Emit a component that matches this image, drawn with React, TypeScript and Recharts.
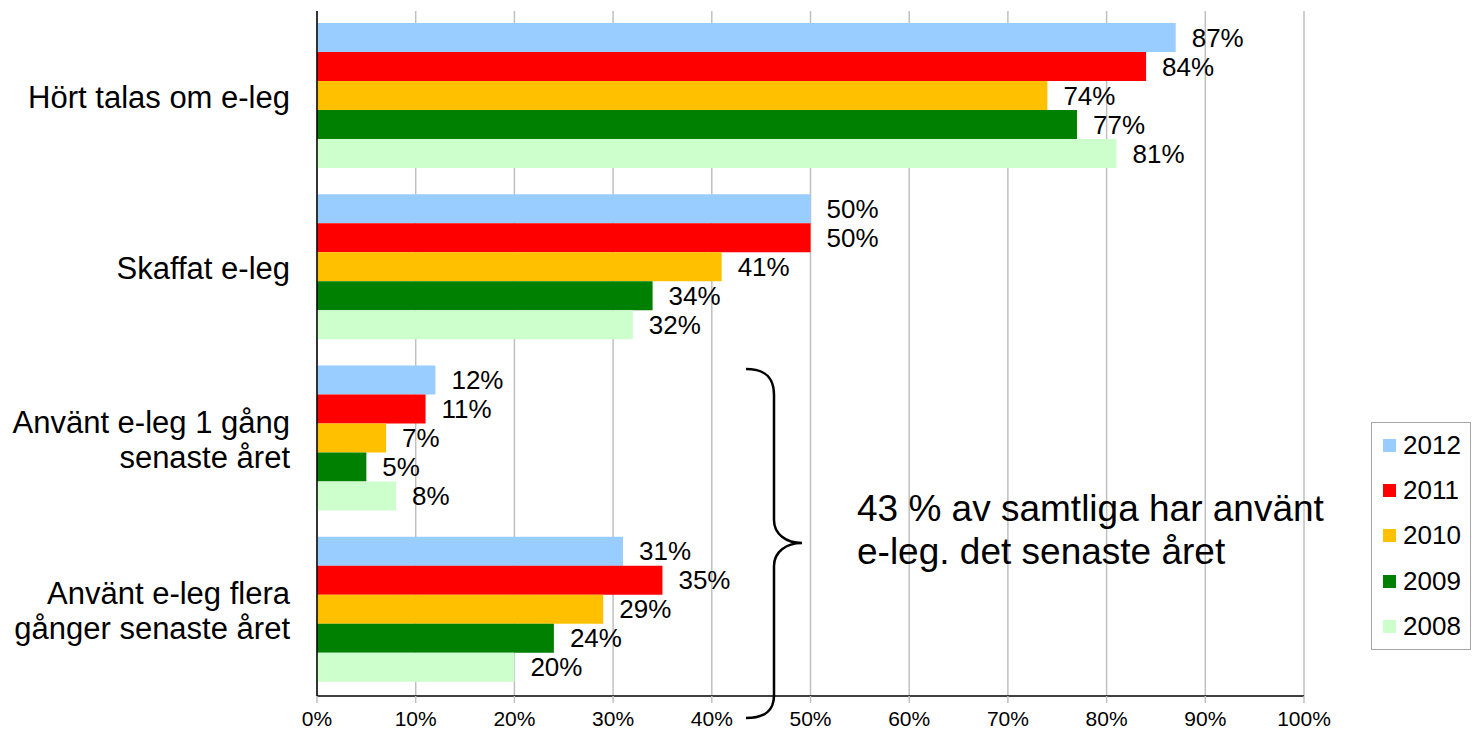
import React from 'react';
import {
  BarChart,
  Bar,
  XAxis,
  YAxis,
  CartesianGrid,
  Legend,
  LabelList,
  Customized,
} from 'recharts';

const categories = [
  'Hört talas om e-leg',
  'Skaffat e-leg',
  'Använt e-leg 1 gång\nsenaste året',
  'Använt e-leg flera\ngånger senaste året',
];

const values2012 = [87, 50, 12, 31];
const values2011 = [84, 50, 11, 35];
const values2010 = [74, 41, 7, 29];
const values2009 = [77, 34, 5, 24];
const values2008 = [81, 32, 8, 20];

const xTicks = [0, 10, 20, 30, 40, 50, 60, 70, 80, 90, 100];

const series = [
  { key: 'y2012', label: '2012', color: '#99CCFF', values: values2012 },
  { key: 'y2011', label: '2011', color: '#FF0000', values: values2011 },
  { key: 'y2010', label: '2010', color: '#FFC000', values: values2010 },
  { key: 'y2009', label: '2009', color: '#008000', values: values2009 },
  { key: 'y2008', label: '2008', color: '#CCFFCC', values: values2008 },
];

const data = categories.map((name, i) => {
  const row: { [key: string]: string | number } = { name };
  series.forEach((s) => {
    row[s.key] = s.values[i];
  });
  return row;
});

const FONT = '"Liberation Sans", Arial, sans-serif';

const CategoryTick = (props: any) => {
  const { x, y, payload } = props;
  const lines = String(payload.value).split('\n');
  const lh = 35;
  const y0 = y - ((lines.length - 1) * lh) / 2;
  return (
    <text x={x} y={y0} textAnchor="end" dominantBaseline="central" fontSize={31} fill="#000" fontFamily={FONT}>
      {lines.map((l, i) => (
        <tspan key={i} x={x} y={y0 + i * lh}>
          {l}
        </tspan>
      ))}
    </text>
  );
};

// legend rows follow the series order (2012 at top)
const renderLegend = (props: any) => {
  const payload = [...(props.payload || [])].sort((a: any, b: any) =>
    String(b.value).localeCompare(String(a.value))
  );
  return (
    <div
      style={{
        width: 98,
        height: 226,
        border: '1px solid #a6a6a6',
        background: '#fff',
        fontFamily: FONT,
        fontSize: 26,
        color: '#000',
      }}
    >
      {payload.map((entry: any) => (
        <div key={entry.value} style={{ display: 'flex', alignItems: 'center', height: 45.2, paddingLeft: 11 }}>
          <span style={{ display: 'inline-block', width: 13, height: 13, background: entry.color, marginRight: 7 }} />
          <span>{entry.value}</span>
        </div>
      ))}
    </div>
  );
};

const Annotation = () => (
  <g>
    <path
      d="M746,369 C766,369 774,378 774,395 L774,520 C774,534 786,543 802,543 C786,543 774,552 774,566 L774,695 C774,710 766,718 746,718"
      fill="none"
      stroke="#000"
      strokeWidth={2.5}
    />
    <text x={857} y={521} fontSize={37} fill="#000" fontFamily={FONT}>
      <tspan x={857} y={521}>43 % av samtliga har använt</tspan>
      <tspan x={857} y={564}>e-leg. det senaste året</tspan>
    </text>
  </g>
);

export default function App() {
  return (
    <div style={{ width: 1472, height: 731, background: '#fff', fontFamily: FONT }}>
      <style>{'body{margin:0}'}</style>
      <BarChart
        width={1472}
        height={731}
        data={data}
        layout="vertical"
        margin={{ top: 11, right: 68, bottom: 0, left: 0 }}
        barCategoryGap={12}
        barGap={0}
      >
        <CartesianGrid horizontal={false} stroke="#c0c0c0" strokeWidth={1.5} />
        <XAxis
          type="number"
          domain={[0, 100]}
          ticks={xTicks}
          tickFormatter={(v: number) => `${v}%`}
          height={35}
          axisLine={{ stroke: '#000', strokeWidth: 1.5 }}
          tickLine={{ stroke: '#c0c0c0', strokeWidth: 1.5 }}
          tickSize={7}
          tickMargin={8}
          tick={{ fontSize: 21, fill: '#000', fontFamily: FONT }}
          interval={0}
        />
        <YAxis
          type="category"
          dataKey="name"
          width={317}
          axisLine={{ stroke: '#000', strokeWidth: 1.5 }}
          tickLine={false}
          tickSize={0}
          tickMargin={27}
          tick={<CategoryTick />}
          interval={0}
        />
        <Legend
          layout="vertical"
          align="right"
          verticalAlign="middle"
          content={renderLegend}
          wrapperStyle={{ left: 1371, top: 422, right: 'auto', width: 100 }}
        />
        {series.map((s) => (
          <Bar key={s.key} dataKey={s.key} name={s.label} fill={s.color} isAnimationActive={false}>
            <LabelList
              dataKey={s.key}
              position="right"
              offset={16}
              formatter={(v: any) => `${v}%`}
              style={{ fontSize: 26, fill: '#000', fontFamily: FONT }}
            />
          </Bar>
        ))}
        <Customized component={Annotation} />
      </BarChart>
    </div>
  );
}
